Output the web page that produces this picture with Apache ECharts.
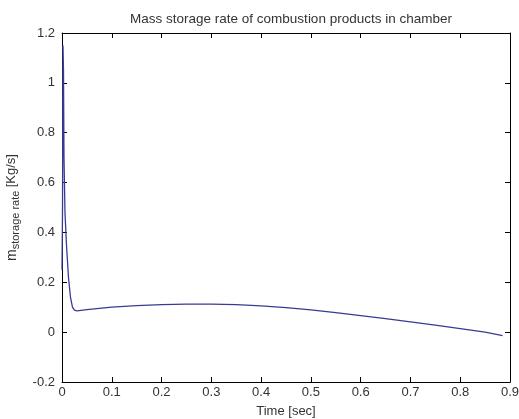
<!DOCTYPE html>
<html>
<head>
<meta charset="utf-8">
<script src="https://cdn.jsdelivr.net/npm/echarts@6/dist/echarts.min.js"></script>
<style>html,body{margin:0;padding:0;background:#fff;}#c{width:519px;height:419px;}</style>
</head>
<body>
<div id="c"></div>
<script>
var times = [0.000, 0.001, 0.002, 0.003, 0.004, 0.006, 0.009, 0.013, 0.017, 0.021, 0.025, 0.030, 0.050, 0.100, 0.150, 0.200, 0.250, 0.300, 0.350, 0.400, 0.450, 0.500, 0.550, 0.600, 0.650, 0.700, 0.750, 0.800, 0.850, 0.885];
var storageRate = [0.25, 0.48, 1.15, 1.05, 0.70, 0.48, 0.35, 0.22, 0.14, 0.10, 0.088, 0.085, 0.090, 0.100, 0.106, 0.110, 0.112, 0.112, 0.110, 0.105, 0.098, 0.089, 0.078, 0.066, 0.054, 0.041, 0.028, 0.014, 0.000, -0.014];
var xTicks = [0, 0.1, 0.2, 0.3, 0.4, 0.5, 0.6, 0.7, 0.8, 0.9];
var yTicks = [-0.2, 0, 0.2, 0.4, 0.6, 0.8, 1, 1.2];

var pts = times.map(function (t, i) { return [t, storageRate[i]]; });
var font = 'Liberation Sans, Arial, sans-serif';
var txt = '#333';
var tickFmt = function (v) { return String(Math.round(v * 10) / 10); };
var line = { show: true, onZero: false, lineStyle: { color: '#000', width: 1 } };
var tick = { show: true, inside: true, length: 5, lineStyle: { color: '#000' } };

var chart = echarts.init(document.getElementById('c'), null, { renderer: 'canvas' });
chart.setOption({
  animation: false,
  backgroundColor: '#fff',
  title: {
    text: 'Mass storage rate of combustion products in chamber',
    left: 286, top: 7, textAlign: 'center',
    textStyle: { fontFamily: font, fontSize: 13.5, fontWeight: 'normal', color: txt }
  },
  grid: { left: 62, right: 9, top: 33, bottom: 37, containLabel: false, outerBoundsMode: 'none' },
  xAxis: [{
    type: 'value', min: xTicks[0], max: xTicks[xTicks.length - 1], interval: 0.1,
    name: 'Time [sec]', nameLocation: 'middle', nameGap: 23,
    nameTextStyle: { fontFamily: font, fontSize: 13, color: txt },
    axisLine: line, axisTick: tick,
    axisLabel: { fontFamily: font, fontSize: 13, color: txt, margin: 4, formatter: tickFmt },
    splitLine: { show: false }
  }, {
    type: 'value', position: 'top', min: xTicks[0], max: xTicks[xTicks.length - 1], interval: 0.1,
    axisLine: line, axisTick: tick,
    axisLabel: { show: false }, splitLine: { show: false }
  }],
  yAxis: [{
    type: 'value', min: yTicks[0], max: yTicks[yTicks.length - 1], interval: 0.2,
    name: '{m|m}{s|storage rate} {u|[Kg/s]}', nameLocation: 'middle', nameGap: 37, nameRotate: 90,
    nameTextStyle: {
      fontFamily: font, color: txt,
      rich: {
        m: { fontFamily: font, fontSize: 14, color: txt, verticalAlign: 'top', lineHeight: 17 },
        s: { fontFamily: font, fontSize: 11, color: txt, verticalAlign: 'bottom', lineHeight: 17, padding: [8, 0, 0, 0] },
        u: { fontFamily: font, fontSize: 13, color: txt, verticalAlign: 'top', lineHeight: 17 }
      }
    },
    axisLine: line, axisTick: tick,
    axisLabel: { fontFamily: font, fontSize: 13, color: txt, margin: 7, formatter: tickFmt },
    splitLine: { show: false }
  }, {
    type: 'value', position: 'right', min: yTicks[0], max: yTicks[yTicks.length - 1], interval: 0.2,
    axisLine: line, axisTick: tick,
    axisLabel: { show: false }, splitLine: { show: false }
  }],
  series: [{
    type: 'line', data: pts, xAxisIndex: 0, yAxisIndex: 0,
    showSymbol: false, smooth: false,
    lineStyle: { color: '#3a3a96', width: 1.3 }
  }]
});
</script>
</body>
</html>
